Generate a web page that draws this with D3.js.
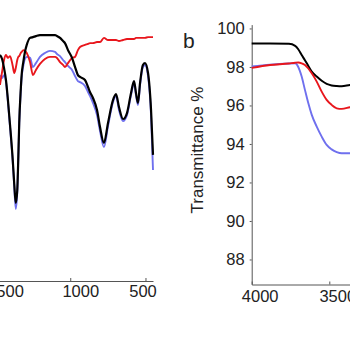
<!DOCTYPE html>
<html>
<head>
<meta charset="utf-8">
<script src="https://cdn.jsdelivr.net/npm/d3@7/dist/d3.min.js"></script>
<style>
  html, body { margin: 0; padding: 0; background: #fff; }
  svg { display: block; }
  text { font-family: "Liberation Sans", Arial, Helvetica, sans-serif; fill: #222; }
</style>
</head>
<body>
<svg id="chart" width="350" height="350"></svg>
<script>
// ---- Panel a: FTIR fingerprint region (wavenumber, cm-1) ----
const aWave = [1467, 1453, 1440, 1427, 1414, 1400, 1382, 1372, 1362, 1352, 1345, 1339, 1329, 1323,
  1312, 1301, 1289, 1267, 1248, 1228, 1201, 1168, 1135, 1101, 1088, 1068, 1048, 1035, 1015, 988,
  968, 949, 935, 902, 882, 869, 849, 822, 802, 776, 749, 716, 696, 676, 649, 623, 596, 576, 563,
  550, 536, 517, 503, 483, 463, 450];
const aBlack = [86.9, 85.4, 81.9, 77.3, 69.6, 60.0, 46.5, 37.3, 30.0, 35.0, 47.7, 60.8, 73.5, 79.2,
  84.2, 88.1, 90.8, 93.5, 93.8, 94.2, 94.6, 94.6, 94.6, 94.6, 94.2, 93.5, 92.3, 91.5, 88.8, 85.8,
  82.3, 79.2, 78.5, 77.3, 74.6, 72.7, 70.4, 65.8, 59.2, 53.1, 60.8, 69.6, 71.9, 66.9, 62.3, 64.6,
  72.3, 76.9, 72.3, 68.5, 76.2, 83.1, 83.8, 80.0, 65.8, 48.5];
const aBlue = [79.2, 78.1, 79.2, 76.5, 68.8, 59.2, 45.8, 36.2, 27.7, 34.2, 47.3, 60.4, 72.7, 78.1,
  82.7, 85.4, 86.2, 85.8, 82.3, 83.8, 86.2, 87.7, 88.5, 88.1, 87.3, 86.5, 85.0, 84.2, 82.7, 81.2,
  78.8, 76.9, 76.5, 75.0, 72.7, 71.2, 68.5, 63.8, 57.7, 51.5, 59.6, 68.8, 71.2, 65.8, 61.5, 63.8,
  71.5, 76.2, 71.5, 67.7, 75.4, 82.3, 83.1, 78.8, 63.8, 42.7];
const aRed = [75.4, 80.4, 85.0, 86.9, 85.8, 86.5, 82.7, 80.0, 81.9, 85.0, 86.2, 86.5, 87.7, 88.1,
  88.8, 88.5, 87.7, 84.2, 79.2, 81.2, 83.5, 85.4, 86.2, 86.2, 85.8, 84.2, 83.1, 82.3, 83.8, 85.8,
  86.2, 88.8, 90.0, 90.8, 91.2, 91.5, 91.5, 91.9, 91.9, 93.5, 92.7, 92.7, 92.7, 92.3, 92.7, 93.1,
  93.1, 93.1, 93.5, 93.5, 93.5, 93.5, 93.5, 93.8, 93.8, 93.8];
const aTicks = [1500, 1000, 500];

// ---- Panel b: O-H stretching region ----
const bWave = [4000, 3882, 3760, 3720, 3700, 3678, 3657, 3635, 3613, 3581, 3549, 3517, 3485, 3452,
  3420, 3367, 3300];
const bBlack = [99.22, 99.22, 99.20, 99.10, 98.92, 98.62, 98.35, 98.05, 97.76, 97.50, 97.28, 97.12,
  97.04, 97.01, 97.00, 97.06, 97.10];
const bRed = [97.95, 98.10, 98.18, 98.22, 98.23, 98.19, 98.10, 97.92, 97.67, 97.24, 96.72, 96.29,
  96.03, 95.85, 95.82, 95.91, 96.00];
const bBlue = [98.02, 98.12, 98.18, 98.19, 98.00, 97.50, 96.81, 96.11, 95.51, 94.90, 94.38, 93.95,
  93.72, 93.58, 93.52, 93.52, 93.58];
const bXTicks = [4000, 3500];
const bYTicks = [88, 90, 92, 94, 96, 98, 100];

const COLORS = { black: "#000000", red: "#e8161c", blue: "#6f70ee" };
const AXIS = "#555";

const svg = d3.select("#chart");

// ---------- panel a ----------
const ax = d3.scaleLinear().domain([1500, 450]).range([-5, 153]);
const ay = d3.scaleLinear().domain([0, 100]).range([281, 21]);

const gA = svg.append("g");
const aAxis = gA.append("g")
  .attr("transform", "translate(0,281)")
  .call(d3.axisBottom(ax).tickValues(aTicks).tickFormat(d3.format("d"))
    .tickSizeInner(-3).tickSizeOuter(0).tickPadding(4));
aAxis.select(".domain").attr("stroke", AXIS);
aAxis.selectAll(".tick line").attr("stroke", AXIS);
const aLabelShift = { 1500: 10, 1000: 10, 500: -3 };
aAxis.selectAll(".tick text")
  .attr("font-size", 16.5).attr("fill", "#222")
  .attr("dx", d => aLabelShift[d]);

const aLine = vals => d3.line()
  .x((d, i) => ax(aWave[i]))
  .y(d => ay(d))
  .curve(d3.curveMonotoneX)(vals);

[[aBlue, COLORS.blue, 1.9], [aRed, COLORS.red, 1.9], [aBlack, COLORS.black, 2.2]].forEach(([v, c, w]) => {
  gA.append("path").attr("d", aLine(v)).attr("fill", "none")
    .attr("stroke", c).attr("stroke-width", w).attr("stroke-linejoin", "round");
});

// ---------- panel b ----------
const bx = d3.scaleLinear().domain([4000, 3000]).range([251.7, 406.9]);
const by = d3.scaleLinear().domain([86.7, 100.2]).range([284.5, 24.6]);

const gB = svg.append("g");
const bXAxis = gB.append("g")
  .attr("transform", "translate(0,284.5)")
  .call(d3.axisBottom(bx).tickValues(bXTicks).tickFormat(d3.format("d"))
    .tickSizeInner(-3).tickSizeOuter(0).tickPadding(6));
bXAxis.select(".domain").attr("stroke", AXIS);
bXAxis.selectAll(".tick line").attr("stroke", AXIS);
bXAxis.selectAll(".tick text").attr("font-size", 16.5).attr("fill", "#222").attr("dx", 8);

const bYAxis = gB.append("g")
  .attr("transform", "translate(251.7,0)")
  .call(d3.axisLeft(by).tickValues(bYTicks).tickFormat(d3.format("d"))
    .tickSizeInner(2).tickSizeOuter(0).tickPadding(5));
bYAxis.select(".domain").attr("stroke", AXIS);
bYAxis.selectAll(".tick line").attr("stroke", AXIS);
bYAxis.selectAll(".tick text").attr("font-size", 16.5).attr("fill", "#222");

gB.append("text")
  .attr("transform", "translate(203,150) rotate(-90)")
  .attr("text-anchor", "middle")
  .attr("font-size", 17)
  .text("Transmittance %");

gB.append("text")
  .attr("x", 183).attr("y", 48)
  .attr("font-size", 21)
  .text("b");

const bLine = vals => d3.line()
  .x((d, i) => bx(bWave[i]))
  .y(d => by(d))
  .curve(d3.curveMonotoneX)(vals);

[[bBlue, COLORS.blue, 1.9], [bBlack, COLORS.black, 2], [bRed, COLORS.red, 1.9]].forEach(([v, c, w]) => {
  gB.append("path").attr("d", bLine(v)).attr("fill", "none")
    .attr("stroke", c).attr("stroke-width", w).attr("stroke-linejoin", "round");
});
</script>
</body>
</html>
